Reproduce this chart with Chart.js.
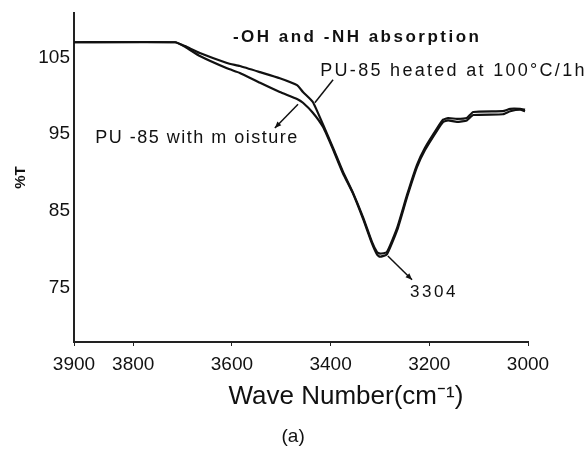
<!DOCTYPE html>
<html>
<head>
<meta charset="utf-8">
<script src="https://cdn.jsdelivr.net/npm/chart.js@4"></script>
<style>
  body { margin: 0; background: #fff; }
</style>
</head>
<body>
<canvas id="grafico" width="588" height="450"></canvas>
<script>
const waveNumbers = [3920, 3715, 3695, 3665, 3610, 3584, 3543, 3503, 3468, 3456, 3436, 3415, 3395, 3375, 3355, 3334, 3316, 3306, 3300, 3286, 3265, 3245, 3225, 3209, 3184, 3172, 3162, 3144, 3124, 3111, 3051, 3036, 3016, 3006];
const tHeated = [107.0, 107.0, 106.5, 105.6, 104.3, 103.9, 103.1, 102.3, 101.4, 100.5, 99.2, 96.2, 93.2, 90.1, 87.4, 84.1, 80.9, 79.6, 79.4, 79.6, 82.8, 87.1, 91.0, 93.2, 95.8, 96.9, 97.1, 97.0, 97.1, 97.9, 98.0, 98.3, 98.3, 98.2];
const tMoisture = [107.0, 107.0, 106.4, 105.2, 103.6, 103.0, 101.7, 100.5, 99.6, 99.1, 97.8, 95.9, 93.0, 89.9, 87.3, 83.9, 80.7, 79.3, 79.0, 79.3, 82.5, 86.8, 90.7, 92.9, 95.5, 96.6, 96.8, 96.6, 96.8, 97.5, 97.6, 98.0, 98.2, 98.0];

const xTickValues = [3920, 3800, 3600, 3400, 3200, 3000];
const xTickLabels = ['3900', '3800', '3600', '3400', '3200', '3000'];
const yTickValues = [75, 85, 95, 105];

// Textos e setas, em coordenadas de dados
const textos = [
    { text: '-OH and -NH absorption', x: 3598, y: 107.7, font: 'bold 17px "Liberation Sans", Arial, sans-serif', spacing: '2.5px' },
    { text: 'PU-85 heated at 100°C/1h', x: 3421, y: 103.25, font: '18px "Liberation Sans", Arial, sans-serif', spacing: '2.3px' },
    { text: 'PU -85 with m oisture', x: 3877, y: 94.5, font: '18px "Liberation Sans", Arial, sans-serif', spacing: '1.5px' },
    { text: '3304', x: 3239, y: 74.3, font: '17px "Liberation Sans", Arial, sans-serif', spacing: '2.5px' }
];
const setas = [
    { from: [3395, 102.1], to: [3432, 99.1], head: false },
    { from: [3466, 98.9], to: [3513, 95.8], head: true },
    { from: [3284, 79.1], to: [3235, 76.0], head: true }
];

function desenhaSeta(ctx, x1, y1, x2, y2, head) {
    ctx.beginPath();
    ctx.moveTo(x1, y1);
    ctx.lineTo(x2, y2);
    ctx.stroke();
    if (head) {
        const ang = Math.atan2(y2 - y1, x2 - x1);
        const len = 7;
        ctx.beginPath();
        ctx.moveTo(x2, y2);
        ctx.lineTo(x2 - len * Math.cos(ang - 0.4), y2 - len * Math.sin(ang - 0.4));
        ctx.lineTo(x2 - len * Math.cos(ang + 0.4), y2 - len * Math.sin(ang + 0.4));
        ctx.closePath();
        ctx.fill();
    }
}

const notas = {
    id: 'notas',
    afterDatasetsDraw(chart) {
        const { ctx, scales: { x, y }, chartArea } = chart;
        ctx.save();
        ctx.fillStyle = '#111';
        ctx.strokeStyle = '#111';
        ctx.lineWidth = 1.5;
        setas.forEach(s => {
            desenhaSeta(ctx, x.getPixelForValue(s.from[0]), y.getPixelForValue(s.from[1]),
                x.getPixelForValue(s.to[0]), y.getPixelForValue(s.to[1]), s.head);
        });
        ctx.textAlign = 'left';
        ctx.textBaseline = 'middle';
        textos.forEach(t => {
            ctx.font = t.font;
            ctx.letterSpacing = t.spacing;
            ctx.fillText(t.text, x.getPixelForValue(t.x), y.getPixelForValue(t.y));
        });
        // título do eixo x e legenda da figura
        ctx.letterSpacing = '0px';
        ctx.textAlign = 'center';
        ctx.font = '26px "Liberation Sans", Arial, sans-serif';
        ctx.fillText('Wave Number(cm⁻¹)', x.getPixelForValue(3369), chartArea.bottom + 55);
        ctx.font = '19px "Liberation Sans", Arial, sans-serif';
        ctx.fillText('(a)', x.getPixelForValue(3476), chartArea.bottom + 95);
        ctx.restore();
    }
};

const tickFont = { family: '"Liberation Sans Narrow", "Liberation Sans", sans-serif', size: 19 };

new Chart(document.getElementById('grafico').getContext('2d'), {
    type: 'line',
    data: {
        datasets: [
            {
                label: 'PU-85 heated at 100°C/1h',
                data: waveNumbers.map((w, i) => ({ x: w, y: tHeated[i] })),
                borderColor: '#111',
                borderWidth: 2.2,
                pointRadius: 0,
                tension: 0.15,
                fill: false
            },
            {
                label: 'PU-85 with moisture',
                data: waveNumbers.map((w, i) => ({ x: w, y: tMoisture[i] })),
                borderColor: '#111',
                borderWidth: 2.2,
                pointRadius: 0,
                tension: 0.15,
                fill: false
            }
        ]
    },
    options: {
        responsive: false,
        animation: false,
        layout: { padding: { top: 13, right: 60, left: 0, bottom: 0 } },
        plugins: {
            legend: { display: false },
            tooltip: { enabled: false }
        },
        scales: {
            x: {
                type: 'linear',
                reverse: true,
                min: 3000,
                max: 3920,
                afterFit: (scale) => {
                    scale.height = 108;
                    scale.paddingLeft = 0;
                    scale.paddingRight = 0;
                },
                afterBuildTicks: (scale) => { scale.ticks = xTickValues.map(v => ({ value: v })); },
                grid: { display: true, drawOnChartArea: false, drawTicks: true, tickLength: 4, color: '#222' },
                border: { display: true, color: '#222', width: 2 },
                ticks: {
                    color: '#111',
                    font: tickFont,
                    padding: 7,
                    maxRotation: 0,
                    autoSkip: false,
                    callback: (v) => xTickLabels[xTickValues.indexOf(v)]
                }
            },
            y: {
                min: 67.87,
                max: 110.82,
                afterFit: (scale) => {
                    scale.width = 74;
                    scale.paddingTop = 0;
                    scale.paddingBottom = 0;
                },
                afterBuildTicks: (scale) => { scale.ticks = yTickValues.map(v => ({ value: v })); },
                grid: { display: false, drawTicks: false },
                border: { display: true, color: '#222', width: 2 },
                title: {
                    display: true,
                    text: '%T',
                    color: '#111',
                    font: { family: '"Liberation Sans", Arial, sans-serif', size: 15, weight: 'bold' },
                    padding: { top: 12, bottom: 0 }
                },
                ticks: {
                    color: '#111',
                    font: tickFont,
                    padding: 4
                }
            }
        }
    },
    plugins: [notas]
});
</script>
</body>
</html>
